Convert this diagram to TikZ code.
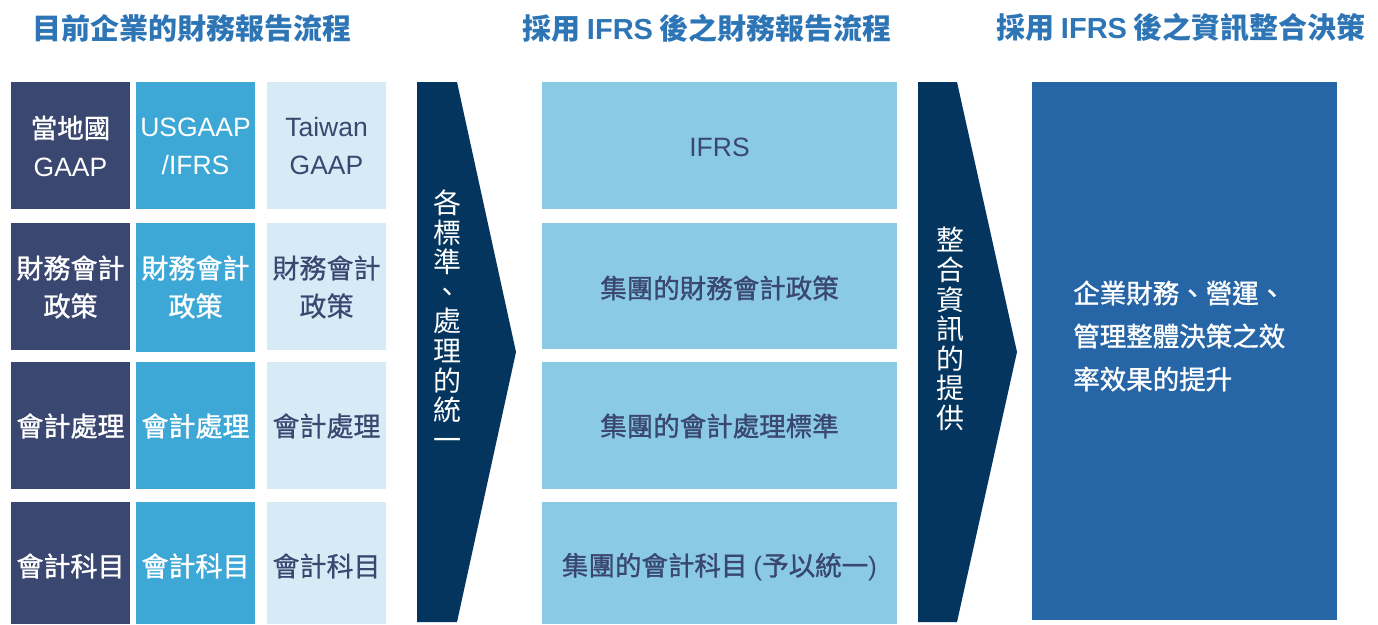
\documentclass[tikz,border=0pt]{standalone}
\usepackage{fontspec}
\setmainfont{Liberation Sans}
\newfontfamily\cjk{Noto Sans CJK TC}
\newfontfamily\cjkm{Noto Sans CJK TC}[FakeBold=1.2]
\newfontfamily\cjkl{Noto Sans CJK TC}[FakeBold=0.6]
\definecolor{navy}{HTML}{3A4770}
\definecolor{midblue}{HTML}{3DA8D6}
\definecolor{pale}{HTML}{D6EBF5}
\definecolor{sky}{HTML}{8ACAE5}
\definecolor{chev}{HTML}{03355E}
\definecolor{rbox}{HTML}{2766A6}
\definecolor{head}{HTML}{2E75B6}
\tikzset{
  wtxt/.style={text=white, align=center, inner sep=0pt},
  dtxt/.style={text=navy, align=center, inner sep=0pt},
  big/.style={font=\fontsize{27}{38}\selectfont\cjkm},
  bigl/.style={font=\fontsize{27}{38}\selectfont\cjkl},
  lat/.style={font=\fontsize{26.5}{38}\selectfont},
  midf/.style={font=\fontsize{26.5}{30}\selectfont\cjkm},
  heading/.style={text=head, font=\fontsize{29}{32}\selectfont\bfseries\cjk, inner sep=0pt},
  vtext/.style={text=white, align=center, inner sep=0pt, font=\fontsize{28}{29.6}\selectfont\cjk},
}
\begin{document}
\begin{tikzpicture}[x=1pt,y=-1pt]
\useasboundingbox (0,0) rectangle (1378,624);
% headings
\node[heading] (h1) at (192,28) {目前企業的財務報告流程};
\node[heading] (h2) at (707,28) {採用 {\fontspec{Liberation Sans}\bfseries IFRS} 後之財務報告流程};
\node[heading] (h3) at (1181,28) {採用 {\fontspec{Liberation Sans}\bfseries IFRS} 後之資訊整合決策};
% column 1
\path[fill=navy] (11,82) rectangle (130,209);
\node[wtxt, lat] (t11) at (70.5,146) {{\cjkm 當地國}\\GAAP};
\path[fill=navy] (11,223) rectangle (130,350);
\node[wtxt, big] (t12) at (70.5,287) {財務會計\\政策};
\path[fill=navy] (11,362) rectangle (130,489);
\node[wtxt, big] (t13) at (70.5,426) {會計處理};
\path[fill=navy] (11,502) rectangle (130,624);
\node[wtxt, big] (t14) at (70.5,566) {會計科目};
% column 2
\path[fill=midblue] (136,82) rectangle (255,209);
\node[wtxt, lat] (t21) at (195.5,146) {USGAAP\\/IFRS};
\path[fill=midblue] (136,223) rectangle (255,352);
\node[wtxt, big] (t22) at (195.5,287) {財務會計\\政策};
\path[fill=midblue] (136,362) rectangle (255,489);
\node[wtxt, big] (t23) at (195.5,426) {會計處理};
\path[fill=midblue] (136,502) rectangle (255,624);
\node[wtxt, big] (t24) at (195.5,566) {會計科目};
% column 3
\path[fill=pale] (267,82) rectangle (386,209);
\node[dtxt, lat] (t31) at (326.5,146) {Taiwan\\GAAP};
\path[fill=pale] (267,223) rectangle (386,350);
\node[dtxt, bigl] (t32) at (326.5,287) {財務會計\\政策};
\path[fill=pale] (267,362) rectangle (386,489);
\node[dtxt, bigl] (t33) at (326.5,426) {會計處理};
\path[fill=pale] (267,502) rectangle (386,624);
\node[dtxt, bigl] (t34) at (326.5,566) {會計科目};
% chevron 1
\path[fill=chev] (417,82) -- (457,82) -- (516,352) -- (457,622) -- (417,622) -- cycle;
\node[vtext] (v1) at (447,320) {各\\標\\準\\、\\處\\理\\的\\統\\一};
% middle column
\path[fill=sky] (542,82) rectangle (897,209);
\node[dtxt, font=\fontsize{26.5}{30}\selectfont] (m1) at (719.5,147) {IFRS};
\path[fill=sky] (542,223) rectangle (897,349);
\node[dtxt, midf] (m2) at (719.5,288) {集團的財務會計政策};
\path[fill=sky] (542,362) rectangle (897,489);
\node[dtxt, midf] (m3) at (719.5,426) {集團的會計處理標準};
\path[fill=sky] (542,502) rectangle (897,624);
\node[dtxt, midf] (m4) at (719.5,567) {集團的會計科目 {\fontspec{Liberation Sans}(}予以統一{\fontspec{Liberation Sans})}};
% chevron 2
\path[fill=chev] (918,82) -- (957,82) -- (1017,352) -- (957,622) -- (918,622) -- cycle;
\node[vtext] (v2) at (950,329) {整\\合\\資\\訊\\的\\提\\供};
% right box
\path[fill=rbox] (1032,82) rectangle (1337,620);
\node[text=white, align=left, anchor=west, inner sep=0pt, font=\fontsize{26.5}{43}\selectfont\cjkm] (r) at (1073,336) {企業財務、營運、\\管理整體決策之效\\率效果的提升};
\end{tikzpicture}
\end{document}
